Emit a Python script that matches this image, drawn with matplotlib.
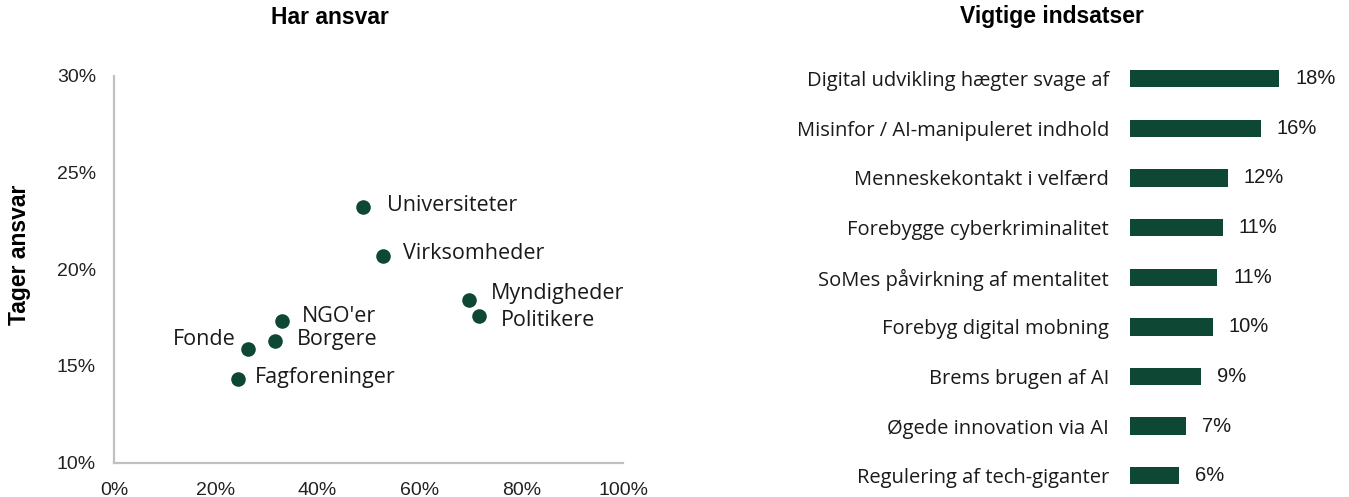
import matplotlib
matplotlib.use('Agg')
import matplotlib.pyplot as plt
from matplotlib.ticker import FuncFormatter

# data: left scatter (x = har ansvar, y = tager ansvar), in %
actors = ['Universiteter', 'Virksomheder', 'Myndigheder', 'Politikere',
          "NGO'er", 'Borgere', 'Fonde', 'Fagforeninger']
har_ansvar = [48.9, 52.8, 69.8, 71.8, 33.0, 31.6, 26.4, 24.4]
tager_ansvar = [23.2, 20.7, 18.4, 17.6, 17.3, 16.3, 15.9, 14.3]

# data: right bar chart, in %
indsatser = ['Digital udvikling hægter svage af', 'Misinfor / AI-manipuleret indhold',
             'Menneskekontakt i velfærd', 'Forebygge cyberkriminalitet',
             'SoMes påvirkning af mentalitet', 'Forebyg digital mobning',
             'Brems brugen af AI', 'Øgede innovation via AI', 'Regulering af tech-giganter']
andel = [18.0, 15.8, 11.8, 11.2, 10.5, 10.0, 8.6, 6.8, 5.95]
andel_labels = ['18%', '16%', '12%', '11%', '11%', '10%', '9%', '7%', '6%']

green = '#0e4733'
W, H = 1349, 497

# label offsets in pixels (dx, dy, ha)
offsets = {
    'Universiteter': (24, 2, 'left'),
    'Virksomheder': (20, 2, 'left'),
    'Myndigheder': (22, 7, 'left'),
    'Politikere': (21, -5, 'left'),
    "NGO'er": (20, 5, 'left'),
    'Borgere': (22, 1, 'left'),
    'Fonde': (-13, 9, 'right'),
    'Fagforeninger': (17, 2, 'left'),
}

fig = plt.figure(figsize=(W / 100, H / 100), dpi=100)

# Step 1. Scatter
ax1 = fig.add_axes([114 / W, 1 - 462.7 / H, (623 - 114) / W, (462.7 - 75.7) / H])
ax1.scatter(har_ansvar, tager_ansvar, s=110, color=green, zorder=3, linewidths=0)
for name, x, y in zip(actors, har_ansvar, tager_ansvar):
    dx, dy, ha = offsets[name]
    ax1.annotate(name, (x, y), xytext=(dx, dy), textcoords='offset pixels',
                 ha=ha, va='center', fontsize=15.5, family='Open Sans', color='#1a1a1a')
ax1.set_xlim(0, 100)
ax1.set_ylim(10, 30)
ax1.set_xticks([0, 20, 40, 60, 80, 100])
ax1.set_yticks([10, 15, 20, 25, 30])
pct = FuncFormatter(lambda v, p: '%d%%' % v)
ax1.xaxis.set_major_formatter(pct)
ax1.yaxis.set_major_formatter(pct)
for side in ['top', 'right']:
    ax1.spines[side].set_visible(False)
for side in ['left', 'bottom']:
    ax1.spines[side].set_color('#c0c0c0')
    ax1.spines[side].set_linewidth(1.6)
ax1.tick_params(axis='y', length=0, pad=13, labelsize=14, labelcolor='#222222')
ax1.tick_params(axis='x', length=0, pad=14, labelsize=14, labelcolor='#222222')
for lab in ax1.get_xticklabels() + ax1.get_yticklabels():
    lab.set_family('Liberation Sans')

fig.text(330 / W, 1 - 17 / H, 'Har ansvar', ha='center', va='center',
         fontsize=16.5, fontweight='bold', family='Liberation Sans')
fig.text(20 / W, 1 - 255 / H, 'Tager ansvar', ha='center', va='center', rotation=90,
         fontsize=16.5, fontweight='bold', family='Liberation Sans')

# Step 2. Bars
ax2 = fig.add_axes([1130 / W, 0, (W - 1130) / W, 444 / H])
pos = list(range(len(indsatser)))
ax2.barh(pos, andel, height=0.35, color=green)
ax2.set_ylim(8.427, -0.518)
ax2.set_xlim(0, (W - 1130) / 8.29)
ax2.set_yticks(pos)
ax2.set_yticklabels(indsatser, family='Open Sans', fontsize=14.5, color='#1a1a1a')
ax2.tick_params(axis='y', length=0, pad=15)
ax2.set_xticks([])
for side in ax2.spines:
    ax2.spines[side].set_visible(False)
for i, (v, lab) in enumerate(zip(andel, andel_labels)):
    ax2.annotate(lab, (v, i), xytext=(16, 0), textcoords='offset pixels',
                 ha='left', va='center', fontsize=14.5, family='Liberation Sans', color='#1a1a1a')

fig.text(1052 / W, 1 - 17 / H, 'Vigtige indsatser', ha='center', va='center',
         fontsize=16.5, fontweight='bold', family='Liberation Sans')

fig.savefig('out.png', dpi=100)
